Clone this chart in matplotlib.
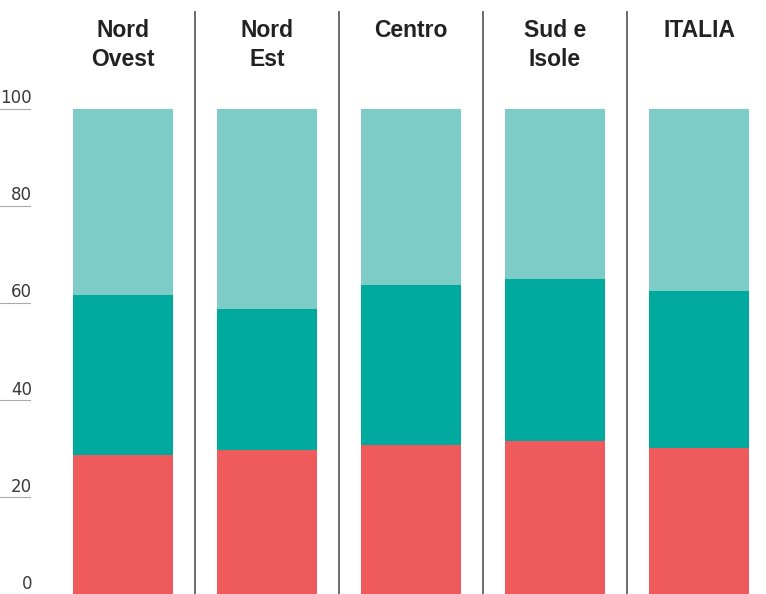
import numpy as np
import matplotlib.pyplot as plt
from matplotlib.transforms import blended_transform_factory

# Data (percent shares, stacked bottom to top)
regions = ['Nord\nOvest', 'Nord\nEst', 'Centro', 'Sud e\nIsole', 'ITALIA']
red_vals = [28.7, 29.7, 30.8, 31.7, 30.3]
teal_vals = [33.1, 29.2, 33.1, 33.4, 32.3]
light_vals = [38.2, 41.1, 36.1, 34.9, 37.4]
yticks = [0, 20, 40, 60, 80, 100]

c_red = '#EF5A5D'
c_teal = '#00A99D'
c_light = '#7ECCC7'

fig = plt.figure(figsize=(7.66, 5.94), dpi=100)
ax = fig.add_axes([0, 0, 1, 1])

x = np.arange(len(regions))
red = np.array(red_vals)
teal = np.array(teal_vals)
light = np.array(light_vals)

w = 0.694
ax.bar(x, red, width=w, color=c_red, linewidth=0)
ax.bar(x, teal, width=w, bottom=red, color=c_teal, linewidth=0)
ax.bar(x, light, width=w, bottom=red + teal, color=c_light, linewidth=0)

ax.set_xlim(-0.854, 4.465)
ax.set_ylim(0.1, 122.55)
ax.axis('off')

# separators between the panels
for s in x[:-1] + 0.5:
    ax.axvline(s, ymin=0, ymax=0.98, color='#6a6a6a', lw=1.4)

# headers
for xi, name in zip(x, regions):
    ax.text(xi, 118.6, name, ha='center', va='top', fontsize=16.5,
            fontweight='bold', color='#222222', family='Liberation Sans',
            linespacing=1.35)

# y labels with short lines under them
tr = blended_transform_factory(ax.transAxes, ax.transData)
for v in yticks:
    ax.plot([0, 0.039], [v, v], transform=tr, color='#aaaaaa', lw=0.8,
            clip_on=False)
    ax.text(0.042, v + 0.4, str(v), transform=tr, ha='right', va='bottom',
            fontsize=12, color='#3a3a3a', family='DejaVu Sans')

fig.savefig('out.png', dpi=100)
